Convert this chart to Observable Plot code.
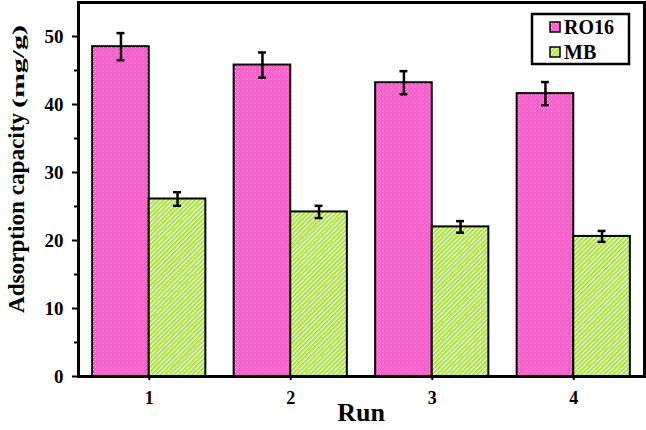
<!DOCTYPE html>
<html>
<head>
<meta charset="utf-8">
<script src="https://cdn.jsdelivr.net/npm/d3@7"></script>
<script src="https://cdn.jsdelivr.net/npm/@observablehq/plot@0.6"></script>
<style>
  html, body { margin: 0; padding: 0; background: #fff; }
  #chart { width: 646px; height: 430px; }
</style>
</head>
<body>
<div id="chart"></div>
<script>
// ---- data ----
const runs = [1, 2, 3, 4];
const series = ["RO16", "MB"];
const ro16Values = [48.5, 45.8, 43.2, 41.6];
const ro16Errors = [2.0, 1.85, 1.7, 1.7];
const mbValues = [26.1, 24.2, 22.0, 20.6];
const mbErrors = [1.0, 0.9, 0.85, 0.8];
const yMajorTicks = [0, 10, 20, 30, 40, 50];
const yMinorTicks = [5, 15, 25, 35, 45];

// ---- build table ----
const barWidth = 0.4;   // fraction of one run step
const capHalf = 0.028;  // half width of error caps, in run units
const rows = [];
runs.forEach((r, i) => {
  rows.push({run: r, series: "RO16", value: ro16Values[i], err: ro16Errors[i], x1: r - barWidth, x2: r});
  rows.push({run: r, series: "MB", value: mbValues[i], err: mbErrors[i], x1: r, x2: r + barWidth});
});
const fills = {RO16: "url(#dotsPink)", MB: "url(#stripesGreen)"};
const font = "'Liberation Serif', 'Times New Roman', serif";

const plot = Plot.plot({
  width: 646,
  height: 430,
  marginLeft: 78,
  marginRight: 2,
  marginTop: 2,
  marginBottom: 54,
  style: {fontFamily: font, fontWeight: "bold", background: "#fff", color: "#000"},
  x: {domain: [0.5, 4.5]},
  y: {domain: [0, 55]},
  marks: [
    Plot.rectY(rows.filter(d => d.series === "RO16"), {x1: "x1", x2: "x2", y1: 0, y2: "value", fill: fills.RO16, stroke: "#000", strokeWidth: 2}),
    Plot.rectY(rows.filter(d => d.series === "MB"), {x1: "x1", x2: "x2", y1: 0, y2: "value", fill: fills.MB, stroke: "#000", strokeWidth: 2}),
    Plot.ruleX(rows, {x: d => (d.x1 + d.x2) / 2, y1: d => d.value - d.err, y2: d => d.value + d.err, stroke: "#000", strokeWidth: 2.5}),
    Plot.ruleY(rows, {y: d => d.value - d.err, x1: d => (d.x1 + d.x2) / 2 - capHalf, x2: d => (d.x1 + d.x2) / 2 + capHalf, stroke: "#000", strokeWidth: 2.5}),
    Plot.ruleY(rows, {y: d => d.value + d.err, x1: d => (d.x1 + d.x2) / 2 - capHalf, x2: d => (d.x1 + d.x2) / 2 + capHalf, stroke: "#000", strokeWidth: 2.5}),
    Plot.axisY({ticks: yMajorTicks, tickSize: 6, tickPadding: 9, strokeWidth: 2, fontSize: 19, label: null, tickFormat: d => d}),
    Plot.axisY({ticks: yMinorTicks, tickSize: 4, strokeWidth: 2, label: null, tickFormat: () => ""}),
    Plot.axisX({ticks: runs, tickSize: 4, tickPadding: 11, strokeWidth: 2, fontSize: 18, label: null, tickFormat: d => d}),
    Plot.frame({stroke: "#000", strokeWidth: 3})
  ]
});

const svg = d3.select(plot);
const defs = svg.insert("defs", ":first-child");
const pDots = defs.append("pattern").attr("id", "dotsPink").attr("patternUnits", "userSpaceOnUse").attr("width", 4).attr("height", 4);
pDots.append("rect").attr("width", 4).attr("height", 4).attr("fill", "#ff5fc9");
pDots.append("rect").attr("x", 1).attr("y", 1).attr("width", 1).attr("height", 1).attr("fill", "#ffffff");
pDots.append("rect").attr("x", 3).attr("y", 3).attr("width", 1).attr("height", 1).attr("fill", "#ffd6f0");
const pStr = defs.append("pattern").attr("id", "stripesGreen").attr("patternUnits", "userSpaceOnUse").attr("width", 3.2).attr("height", 3.2).attr("patternTransform", "rotate(45)");
pStr.append("rect").attr("width", 3.2).attr("height", 3.2).attr("fill", "#ffffff");
pStr.append("rect").attr("width", 2.1).attr("height", 3.2).attr("fill", "#a6e636");

// axis titles
const yt = svg.append("g")
  .attr("transform", "translate(24,0) rotate(-90)")
  .attr("font-family", font).attr("font-weight", "bold").attr("fill", "#000");
yt.append("text").attr("x", -313).attr("y", 0).attr("text-anchor", "start")
  .attr("font-size", 24).attr("textLength", 200).attr("lengthAdjust", "spacingAndGlyphs")
  .text("Adsorption capacity");
yt.append("text").attr("x", -108).attr("y", 0).attr("text-anchor", "start")
  .attr("font-size", 17).attr("textLength", 83).attr("lengthAdjust", "spacingAndGlyphs")
  .text("(mg/g)");
svg.append("text")
  .attr("x", 361).attr("y", 421)
  .attr("text-anchor", "middle")
  .attr("font-family", font).attr("font-weight", "bold").attr("font-size", 26).attr("fill", "#000")
  .text("Run");

// legend
const lg = svg.append("g").attr("font-family", font).attr("font-weight", "bold").attr("font-size", 20).attr("text-anchor", "start");
lg.append("rect").attr("x", 532).attr("y", 14).attr("width", 97).attr("height", 50).attr("fill", "#fff").attr("stroke", "#000").attr("stroke-width", 2.5);
series.forEach((s, i) => {
  const cy = 27 + i * 25;
  lg.append("rect").attr("x", 550).attr("y", cy - 5).attr("width", 10).attr("height", 10).attr("fill", fills[s]).attr("stroke", "#000").attr("stroke-width", 1.5);
  lg.append("text").attr("x", 564).attr("y", cy + 7).attr("fill", "#000").attr("text-anchor", "start").text(s);
});

document.getElementById("chart").appendChild(plot);
</script>
</body>
</html>
